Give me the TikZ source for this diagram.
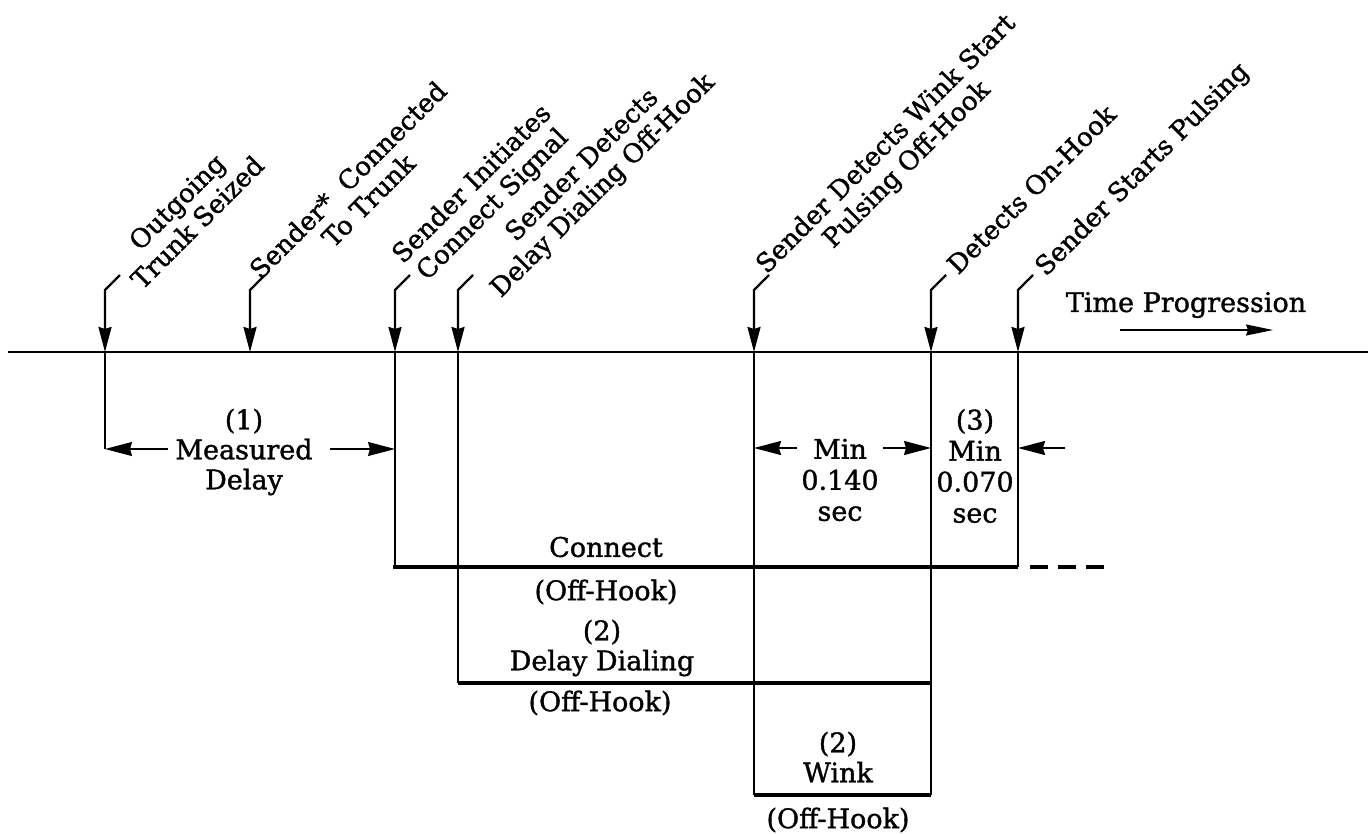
\documentclass[tikz,border=0pt]{standalone}
\usepackage{fontspec}
\setmainfont{DejaVu Serif}[RawFeature={embolden=1.3}]
\usetikzlibrary{arrows.meta}
\begin{document}
\begin{tikzpicture}[x=1pt,y=-1pt,
  txt/.style={font=\fontsize{27}{30}\selectfont, inner sep=0pt, align=center},
  txtb/.style={font=\fontsize{27}{31}\selectfont, inner sep=0pt, align=center},
  lbl/.style={font=\fontsize{26}{29}\selectfont, inner sep=0pt, align=center, rotate=45},
  ln/.style={line width=2.2pt},
  state/.style={line width=3.6pt},
  lead/.style={line width=2.2pt, -{Stealth[length=25pt,width=13pt,inset=2pt]}},
  dim/.style={line width=1.6pt, -{Stealth[length=27pt,width=14pt,inset=2pt]}},
  tp/.style={line width=1.4pt, -{Stealth[length=27pt,width=11pt,inset=2pt]}},
]
\useasboundingbox (0,0) rectangle (1371,833);

% timeline
\coordinate (tl0) at (8,352);
\coordinate (tl1) at (1368,352);
\draw[ln] (tl0) -- (tl1);

% event points on the timeline, lead tops and lead ends
\foreach \i/\x in {1/105,2/250,3/395,4/458,5/754,6/931,7/1018}{
  \coordinate (e\i) at (\x,352);
  \coordinate (t\i) at (\x,290);
  \coordinate (d\i) at (\x+15,275);
}
\foreach \i in {1,...,7}{
  \draw[lead] (d\i) -- (t\i) -- (e\i);
}

% rotated labels
\node[lbl] (l1) at (187,212) {Outgoing\\Trunk Seized};
\node[lbl] (l2) at (358,190) {Sender*\ \ Connected\\To Trunk};
\node[lbl] (l3) at (483,195) {Sender Initiates\\Connect Signal};
\node[lbl] (l4) at (593,176) {Sender Detects\\Delay Dialing Off-Hook};
\node[lbl] (l5) at (897,155) {Sender Detects Wink Start\\Pulsing Off-Hook};
\node[lbl] (l6) at (1031,189) {Detects On-Hook};
\node[lbl] (l7) at (1143,170) {Sender Starts Pulsing};

% time progression
\node[txt] (tpt) at (1186,305) {Time Progression};
\coordinate (tpa) at (1120,330);
\coordinate (tpb) at (1273,330);
\draw[tp] (tpa) -- (tpb);

% drop lines
\coordinate (a1) at (105,449);
\coordinate (c0) at (393,567);
\coordinate (c3) at (395,567);
\coordinate (c7) at (1018,567);
\coordinate (dd0) at (458,683);
\coordinate (dd1) at (931,683);
\coordinate (w0) at (754,795);
\coordinate (w1) at (931,795);
\draw[ln] (e1) -- (a1);
\draw[ln] (e3) -- (c3);
\draw[ln] (e4) -- (dd0);
\draw[ln] (e5) -- (w0);
\draw[ln] (e6) -- (w1);
\draw[ln] (e7) -- (c7);

% state lines
\draw[state] (c0) -- (c7);
\coordinate (x0) at (1030,567);
\coordinate (x1) at (1105,567);
\draw[state, dash pattern=on 18pt off 10pt] (x0) -- (x1);
\draw[state] (dd0) -- (dd1);
\draw[state] (w0) -- (w1);

% (1) measured delay
\node[txt] (m1) at (244,452) {(1)\\Measured\\Delay};
\coordinate (m1l) at (168,449);
\coordinate (m1r) at (330,449);
\coordinate (a3) at (395,449);
\draw[dim] (m1l) -- (a1);
\draw[dim] (m1r) -- (a3);

% min 0.140 sec
\node[txtb] (m2) at (840,480) {Min\\0.140\\sec};
\coordinate (b5) at (754,448);
\coordinate (b6) at (931,448);
\coordinate (m2l) at (797,448);
\coordinate (m2r) at (883,448);
\draw[dim] (m2l) -- (b5);
\draw[dim] (m2r) -- (b6);

% (3) min 0.070 sec
\node[txtb] (m3) at (975,466) {(3)\\Min\\0.070\\sec};
\coordinate (b7) at (1018,448);
\coordinate (m3r) at (1065,448);
\draw[dim] (m3r) -- (b7);

% state texts
\node[txt] (cn) at (606,547) {Connect};
\node[txt] (oh1) at (606,592) {(Off-Hook)};
\node[txt] (dl) at (602,648) {(2)\\Delay Dialing};
\node[txt] (oh2) at (600,703) {(Off-Hook)};
\node[txt] (wk) at (838,757) {(2)\\Wink};
\node[txt] (oh3) at (838,820) {(Off-Hook)};
\end{tikzpicture}
\end{document}
